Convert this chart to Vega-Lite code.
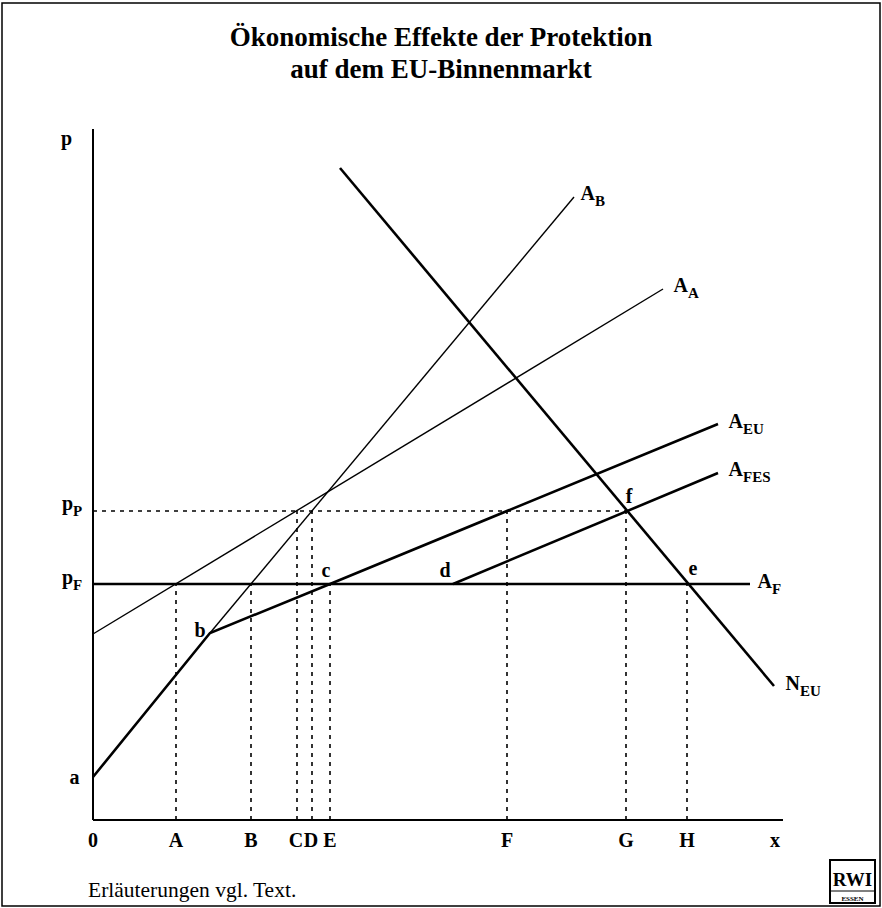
{
  "$schema": "https://vega.github.io/schema/vega-lite/v6.json",
  "width": 882,
  "height": 808,
  "autosize": "none",
  "padding": {"left": 0, "top": 100, "right": 0, "bottom": 0},
  "background": "white",
  "title": {
    "text": ["Ökonomische Effekte der Protektion", "auf dem EU-Binnenmarkt"],
    "font": "Liberation Serif",
    "fontSize": 27,
    "fontWeight": "bold",
    "lineHeight": 32,
    "color": "black",
    "anchor": "middle",
    "frame": "group",
    "offset": -82
  },
  "config": {"view": {"stroke": null}},
  "datasets": {
    "curves": [
      {"curve": "A_F", "q": 0, "p": 23.6},
      {"curve": "A_F", "q": 65.7, "p": 23.6},
      {"curve": "A_A", "q": 0, "p": 18.6},
      {"curve": "A_A", "q": 57.0, "p": 53.1},
      {"curve": "A_B", "q": 11.7, "p": 18.7},
      {"curve": "A_B", "q": 48.1, "p": 62.3},
      {"curve": "A_EU", "q": 0, "p": 4.3},
      {"curve": "A_EU", "q": 11.7, "p": 18.7},
      {"curve": "A_EU", "q": 23.7, "p": 23.6},
      {"curve": "A_EU", "q": 62.5, "p": 39.6},
      {"curve": "A_FES", "q": 36.0, "p": 23.6},
      {"curve": "A_FES", "q": 62.5, "p": 34.7},
      {"curve": "N_EU", "q": 24.7, "p": 65.2},
      {"curve": "N_EU", "q": 68.1, "p": 13.4}
    ],
    "axes": [
      {"axis": "p", "q": 0, "p": 0, "q2": 0, "p2": 69.1},
      {"axis": "x", "q": 0, "p": 0, "q2": 69.0, "p2": 0}
    ],
    "guides": [
      {"guide": "A", "q": 8.3, "p": 0, "q2": 8.3, "p2": 23.6},
      {"guide": "B", "q": 15.8, "p": 0, "q2": 15.8, "p2": 23.6},
      {"guide": "C", "q": 20.4, "p": 0, "q2": 20.4, "p2": 30.9},
      {"guide": "D", "q": 21.9, "p": 0, "q2": 21.9, "p2": 30.9},
      {"guide": "E", "q": 23.7, "p": 0, "q2": 23.7, "p2": 23.6},
      {"guide": "F", "q": 41.4, "p": 0, "q2": 41.4, "p2": 30.9},
      {"guide": "G", "q": 53.3, "p": 0, "q2": 53.3, "p2": 30.9},
      {"guide": "H", "q": 59.4, "p": 0, "q2": 59.4, "p2": 23.6},
      {"guide": "p_P", "q": 0, "p": 30.9, "q2": 53.3, "p2": 30.9}
    ],
    "xlabels": [
      {"label": "0", "q": 0, "p": 0},
      {"label": "A", "q": 8.3, "p": 0},
      {"label": "B", "q": 15.8, "p": 0},
      {"label": "C", "q": 20.3, "p": 0},
      {"label": "D", "q": 21.8, "p": 0},
      {"label": "E", "q": 23.7, "p": 0},
      {"label": "F", "q": 41.4, "p": 0},
      {"label": "G", "q": 53.3, "p": 0},
      {"label": "H", "q": 59.4, "p": 0},
      {"label": "x", "q": 68.2, "p": 0}
    ],
    "points": [
      {"label": "a", "q": -1.85, "p": 3.6},
      {"label": "b", "q": 10.7, "p": 18.3},
      {"label": "c", "q": 23.3, "p": 24.3},
      {"label": "d", "q": 35.2, "p": 24.3},
      {"label": "e", "q": 60.0, "p": 24.5},
      {"label": "f", "q": 53.6, "p": 31.7}
    ],
    "names": [
      {"main": "p", "sub": "", "q": -2.1, "p": 67.5},
      {"main": "p", "sub": "P", "q": -2.0, "p": 31.0},
      {"main": "p", "sub": "F", "q": -2.0, "p": 23.6},
      {"main": "A", "sub": "B", "q": 50.2, "p": 62.0},
      {"main": "A", "sub": "A", "q": 59.5, "p": 52.8},
      {"main": "A", "sub": "EU", "q": 65.0, "p": 39.2},
      {"main": "A", "sub": "FES", "q": 65.0, "p": 34.4},
      {"main": "A", "sub": "F", "q": 67.9, "p": 23.2},
      {"main": "N", "sub": "EU", "q": 70.7, "p": 13.0}
    ],
    "notes": [
      {"text": "Erläuterungen vgl. Text.", "q": -0.5, "p": -7.7}
    ],
    "frame": [
      {"q": -9.1, "p": 81.7, "q2": 78.7, "p2": -8.6}
    ],
    "logo": [
      {"q": 73.7, "p": -4.0, "q2": 78.2, "p2": -8.3, "qc": 75.95, "pm": -6.6, "ps": -8.05, "pl": -7.1, "name": "RWI", "city": "ESSEN"}
    ]
  },
  "layer": [
    {
      "data": {"name": "frame"},
      "mark": {"type": "rect", "fillOpacity": 0, "fill": "white", "stroke": "black", "strokeWidth": 1.5},
      "encoding": {
        "x": {"field": "q", "type": "quantitative", "scale": {"domain": [-9.3, 78.9], "nice": false, "zero": false}, "axis": null},
        "x2": {"field": "q2"},
        "y": {"field": "p", "type": "quantitative", "scale": {"domain": [-8.8, 72], "nice": false, "zero": false}, "axis": null},
        "y2": {"field": "p2"}
      }
    },
    {
      "data": {"name": "axes"},
      "mark": {"type": "rule", "color": "black", "strokeWidth": 2},
      "encoding": {
        "x": {"field": "q", "type": "quantitative", "scale": {"domain": [-9.3, 78.9], "nice": false, "zero": false}, "axis": null},
        "x2": {"field": "q2"},
        "y": {"field": "p", "type": "quantitative", "scale": {"domain": [-8.8, 72], "nice": false, "zero": false}, "axis": null},
        "y2": {"field": "p2"}
      }
    },
    {
      "data": {"name": "guides"},
      "mark": {"type": "rule", "color": "black", "strokeWidth": 1.6, "strokeDash": [4, 5]},
      "encoding": {
        "x": {"field": "q", "type": "quantitative", "scale": {"domain": [-9.3, 78.9], "nice": false, "zero": false}, "axis": null},
        "x2": {"field": "q2"},
        "y": {"field": "p", "type": "quantitative", "scale": {"domain": [-8.8, 72], "nice": false, "zero": false}, "axis": null},
        "y2": {"field": "p2"}
      }
    },
    {
      "data": {"name": "curves"},
      "transform": [{"filter": {"field": "curve", "oneOf": ["A_A", "A_B"]}}],
      "mark": {"type": "line", "color": "black", "strokeWidth": 1.4},
      "encoding": {
        "x": {"field": "q", "type": "quantitative", "scale": {"domain": [-9.3, 78.9], "nice": false, "zero": false}, "axis": null},
        "y": {"field": "p", "type": "quantitative", "scale": {"domain": [-8.8, 72], "nice": false, "zero": false}, "axis": null},
        "detail": {"field": "curve"}
      }
    },
    {
      "data": {"name": "curves"},
      "transform": [{"filter": {"field": "curve", "oneOf": ["A_F", "A_EU", "A_FES", "N_EU"]}}],
      "mark": {"type": "line", "color": "black", "strokeWidth": 2.6},
      "encoding": {
        "x": {"field": "q", "type": "quantitative", "scale": {"domain": [-9.3, 78.9], "nice": false, "zero": false}, "axis": null},
        "y": {"field": "p", "type": "quantitative", "scale": {"domain": [-8.8, 72], "nice": false, "zero": false}, "axis": null},
        "detail": {"field": "curve"}
      }
    },
    {
      "data": {"name": "points"},
      "mark": {"type": "text", "font": "Liberation Serif", "fontWeight": "bold", "fontSize": 20, "align": "center", "baseline": "alphabetic", "color": "black"},
      "encoding": {
        "x": {"field": "q", "type": "quantitative", "scale": {"domain": [-9.3, 78.9], "nice": false, "zero": false}, "axis": null},
        "y": {"field": "p", "type": "quantitative", "scale": {"domain": [-8.8, 72], "nice": false, "zero": false}, "axis": null},
        "text": {"field": "label"}
      }
    },
    {
      "data": {"name": "names"},
      "mark": {"type": "text", "font": "Liberation Serif", "fontWeight": "bold", "fontSize": 20, "align": "right", "baseline": "alphabetic", "color": "black"},
      "encoding": {
        "x": {"field": "q", "type": "quantitative", "scale": {"domain": [-9.3, 78.9], "nice": false, "zero": false}, "axis": null},
        "y": {"field": "p", "type": "quantitative", "scale": {"domain": [-8.8, 72], "nice": false, "zero": false}, "axis": null},
        "text": {"field": "main"}
      }
    },
    {
      "data": {"name": "names"},
      "mark": {"type": "text", "font": "Liberation Serif", "fontWeight": "bold", "fontSize": 15, "align": "left", "baseline": "alphabetic", "dy": 6, "color": "black"},
      "encoding": {
        "x": {"field": "q", "type": "quantitative", "scale": {"domain": [-9.3, 78.9], "nice": false, "zero": false}, "axis": null},
        "y": {"field": "p", "type": "quantitative", "scale": {"domain": [-8.8, 72], "nice": false, "zero": false}, "axis": null},
        "text": {"field": "sub"}
      }
    },
    {
      "data": {"name": "xlabels"},
      "mark": {"type": "text", "font": "Liberation Serif", "fontWeight": "bold", "fontSize": 20, "align": "center", "baseline": "alphabetic", "dy": 27, "color": "black"},
      "encoding": {
        "x": {"field": "q", "type": "quantitative", "scale": {"domain": [-9.3, 78.9], "nice": false, "zero": false}, "axis": null},
        "y": {"field": "p", "type": "quantitative", "scale": {"domain": [-8.8, 72], "nice": false, "zero": false}, "axis": null},
        "text": {"field": "label"}
      }
    },
    {
      "data": {"name": "notes"},
      "mark": {"type": "text", "font": "Liberation Serif", "fontSize": 21.5, "align": "left", "baseline": "alphabetic", "color": "black"},
      "encoding": {
        "x": {"field": "q", "type": "quantitative", "scale": {"domain": [-9.3, 78.9], "nice": false, "zero": false}, "axis": null},
        "y": {"field": "p", "type": "quantitative", "scale": {"domain": [-8.8, 72], "nice": false, "zero": false}, "axis": null},
        "text": {"field": "text"}
      }
    },
    {
      "data": {"name": "logo"},
      "mark": {"type": "rect", "fill": "white", "stroke": "black", "strokeWidth": 2},
      "encoding": {
        "x": {"field": "q", "type": "quantitative", "scale": {"domain": [-9.3, 78.9], "nice": false, "zero": false}, "axis": null},
        "x2": {"field": "q2"},
        "y": {"field": "p", "type": "quantitative", "scale": {"domain": [-8.8, 72], "nice": false, "zero": false}, "axis": null},
        "y2": {"field": "p2"}
      }
    },
    {
      "data": {"name": "logo"},
      "mark": {"type": "rule", "color": "black", "strokeWidth": 1},
      "encoding": {
        "x": {"field": "q", "type": "quantitative", "scale": {"domain": [-9.3, 78.9], "nice": false, "zero": false}, "axis": null},
        "x2": {"field": "q2"},
        "y": {"field": "pl", "type": "quantitative", "scale": {"domain": [-8.8, 72], "nice": false, "zero": false}, "axis": null}
      }
    },
    {
      "data": {"name": "logo"},
      "mark": {"type": "text", "font": "Liberation Serif", "fontWeight": "bold", "fontSize": 19, "align": "center", "baseline": "alphabetic", "color": "black"},
      "encoding": {
        "x": {"field": "qc", "type": "quantitative", "scale": {"domain": [-9.3, 78.9], "nice": false, "zero": false}, "axis": null},
        "y": {"field": "pm", "type": "quantitative", "scale": {"domain": [-8.8, 72], "nice": false, "zero": false}, "axis": null},
        "text": {"field": "name"}
      }
    },
    {
      "data": {"name": "logo"},
      "mark": {"type": "text", "font": "Liberation Serif", "fontWeight": "bold", "fontSize": 7, "align": "center", "baseline": "alphabetic", "color": "black"},
      "encoding": {
        "x": {"field": "qc", "type": "quantitative", "scale": {"domain": [-9.3, 78.9], "nice": false, "zero": false}, "axis": null},
        "y": {"field": "ps", "type": "quantitative", "scale": {"domain": [-8.8, 72], "nice": false, "zero": false}, "axis": null},
        "text": {"field": "city"}
      }
    }
  ]
}
